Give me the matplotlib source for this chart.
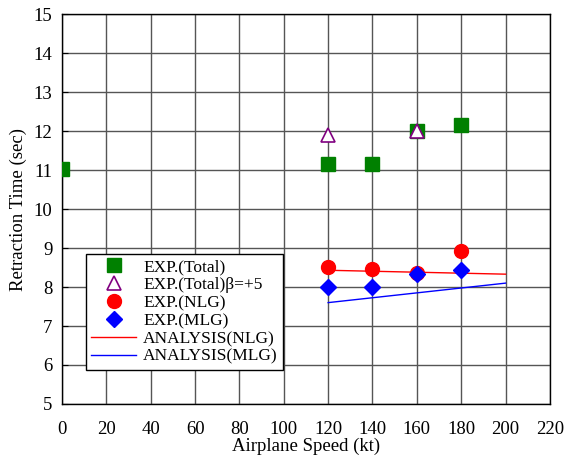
import numpy as np
import matplotlib
matplotlib.use("Agg")
import matplotlib.pyplot as plt

plt.rcParams["font.family"] = ["Liberation Serif", "DejaVu Serif"]

# 実験値
total_x = [0, 120, 140, 160, 180]
total_y = [11.02, 11.15, 11.15, 12.0, 12.15]
beta_x = [120, 160]
beta_y = [11.9, 12.0]
nlg_x = [120, 140, 160, 180]
nlg_y = [8.52, 8.45, 8.35, 8.92]
mlg_x = [120, 140, 160, 180]
mlg_y = [8.0, 8.0, 8.33, 8.43]

# 解析値
ana_x = [120, 200]
ana_nlg = [8.43, 8.33]
ana_mlg = [7.6, 8.1]

fig = plt.figure(figsize=(5.64, 4.58), dpi=100)
ax = fig.add_axes([0.110, 0.118, 0.865, 0.851])

ax.plot(total_x, total_y, "s", color="#008000", markersize=9.5, linestyle="none",
        label="EXP.(Total)", zorder=3)
ax.plot(beta_x, beta_y, "^", markerfacecolor="white", markeredgecolor="#800080",
        markeredgewidth=1.2, markersize=10, linestyle="none",
        label="EXP.(Total)β=+5", zorder=4)
ax.plot(nlg_x, nlg_y, "o", color="red", markersize=10, linestyle="none",
        label="EXP.(NLG)", zorder=3)
ax.plot(mlg_x, mlg_y, "D", color="blue", markersize=8.5, linestyle="none",
        label="EXP.(MLG)", zorder=4)
ax.plot(ana_x, ana_nlg, color="red", linewidth=1, label="ANALYSIS(NLG)", zorder=2)
ax.plot(ana_x, ana_mlg, color="blue", linewidth=1, label="ANALYSIS(MLG)", zorder=2)

ax.set_xlim(0, 220)
ax.set_ylim(5, 15)
ax.set_xticks(np.arange(0, 221, 20))
ax.set_yticks(np.arange(5, 16, 1))
ax.grid(True, color="#555555", linewidth=1)
ax.set_axisbelow(True)
ax.tick_params(axis="x", direction="in", length=0, pad=12, labelsize=13.5)
ax.tick_params(axis="y", direction="in", length=4, pad=7, labelsize=13.5)
for s in ax.spines.values():
    s.set_linewidth(1)
    s.set_color("black")

ax.set_xlabel("Airplane Speed (kt)", fontsize=13.5, labelpad=0)
ax.set_ylabel("Retraction Time (sec)", fontsize=13.5, labelpad=5)

leg = ax.legend(loc="lower left", bbox_to_anchor=(0.049, 0.087), fontsize=12.5,
                frameon=True, fancybox=False, framealpha=1, edgecolor="black",
                borderpad=0.3, labelspacing=0.1, handlelength=2.6,
                handletextpad=0.4, borderaxespad=0)
leg.get_frame().set_linewidth(1)

fig.savefig("out.png", dpi=100)
